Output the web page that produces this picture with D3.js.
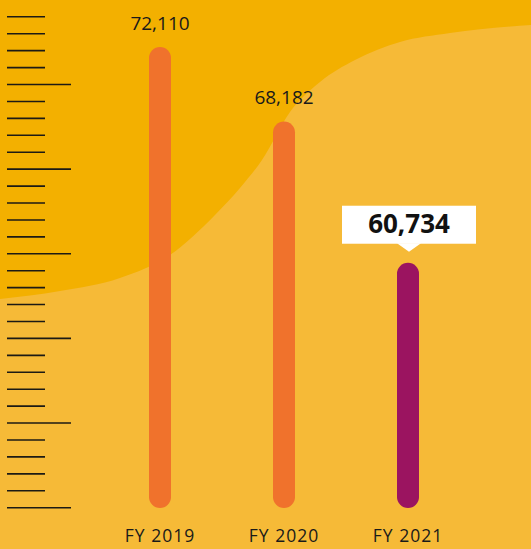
<!DOCTYPE html>
<html>
<head>
<meta charset="utf-8">
<script src="https://cdn.jsdelivr.net/npm/d3@7"></script>
<style>
    html, body { margin: 0; padding: 0; background: #F6BA37; }
    svg { display: block; font-family: "Open Sans", "Noto Sans", sans-serif; }
</style>
</head>
<body>
<svg width="531" height="549"></svg>
<script>
// data
var years = ["FY 2019", "FY 2020", "FY 2021"];
var values = [72110, 68182, 60734];
var labels = ["72,110", "68,182", "60,734"];

// background wave (dark band) outline
var waveX = [0, 60, 120, 170, 215, 240, 262, 290, 320, 355, 400, 450, 531];
var waveY = [299, 291, 278, 255, 215, 188, 160, 112, 82, 60, 42, 33, 25];

window.onload = main;

function main() {
    var width = 531,
        height = 549;

    var svg = d3.select("svg");

    // light background
    svg.append("rect")
        .attr("width", width)
        .attr("height", height)
        .attr("fill", "#F6BA37");

    // dark wave on top
    var wave = d3.line()
        .x((d) => waveX[d])
        .y((d) => waveY[d])
        .curve(d3.curveMonotoneX);
    var pts = waveX.map((d, i) => i);
    svg.append("path")
        .attr("d", wave(pts) + "L" + width + ",0L0,0Z")
        .attr("fill", "#F3B000");

    // ruler ticks on the left
    var ruler = d3.scaleLinear().domain([0, 29]).range([16.8, 507.7]);
    svg.append("g")
        .selectAll("line")
        .data(d3.range(30))
        .enter()
        .append("line")
        .attr("x1", 7)
        .attr("x2", (d) => (d % 5 == 4 ? 71 : 45))
        .attr("y1", (d) => ruler(d))
        .attr("y2", (d) => ruler(d))
        .attr("stroke", "#1c1a14")
        .attr("stroke-width", 1.6);

    var x = d3.scalePoint().domain(years).range([160, 408]);
    var y = d3.scaleLinear().domain([47800, 72110]).range([508, 47]);
    var barW = 22;

    // bars
    svg.append("g")
        .selectAll("rect")
        .data(values)
        .enter()
        .append("rect")
        .attr("x", (d, i) => x(years[i]) - barW / 2)
        .attr("y", (d) => y(d))
        .attr("width", barW)
        .attr("height", (d) => y.range()[0] - y(d))
        .attr("rx", barW / 2)
        .attr("fill", (d, i) => (i == values.length - 1 ? "#9B1460" : "#F0722C"));

    // plain value labels
    svg.append("g")
        .selectAll("text")
        .data(values.slice(0, -1))
        .enter()
        .append("text")
        .attr("x", (d, i) => x(years[i]))
        .attr("y", (d) => y(d) - 17)
        .attr("text-anchor", "middle")
        .attr("font-size", 19)
        .attr("fill", "#1a1a1a")
        .text((d, i) => labels[i]);

    // callout for latest year
    var last = values.length - 1;
    var cx = x(years[last]) + 1,
        top = y(values[last]);
    var call = svg.append("g");
    call.append("rect")
        .attr("x", cx - 67)
        .attr("y", top - 57)
        .attr("width", 134)
        .attr("height", 38)
        .attr("fill", "#ffffff");
    call.append("path")
        .attr("d", "M" + (cx - 12) + "," + (top - 19.5) + "L" + (cx + 12) + "," + (top - 19.5) +
            "L" + cx + "," + (top - 11) + "Z")
        .attr("fill", "#ffffff");
    call.append("text")
        .attr("x", cx)
        .attr("y", top - 30)
        .attr("text-anchor", "middle")
        .attr("font-size", 26)
        .attr("font-weight", "bold")
        .attr("fill", "#111")
        .text(labels[last]);

    // year labels
    svg.append("g")
        .selectAll("text")
        .data(years)
        .enter()
        .append("text")
        .attr("x", (d) => x(d))
        .attr("y", 542)
        .attr("text-anchor", "middle")
        .attr("font-size", 17.5)
        .attr("letter-spacing", 1)
        .attr("fill", "#1a1a1a")
        .text((d) => d);
}
</script>
</body>
</html>
